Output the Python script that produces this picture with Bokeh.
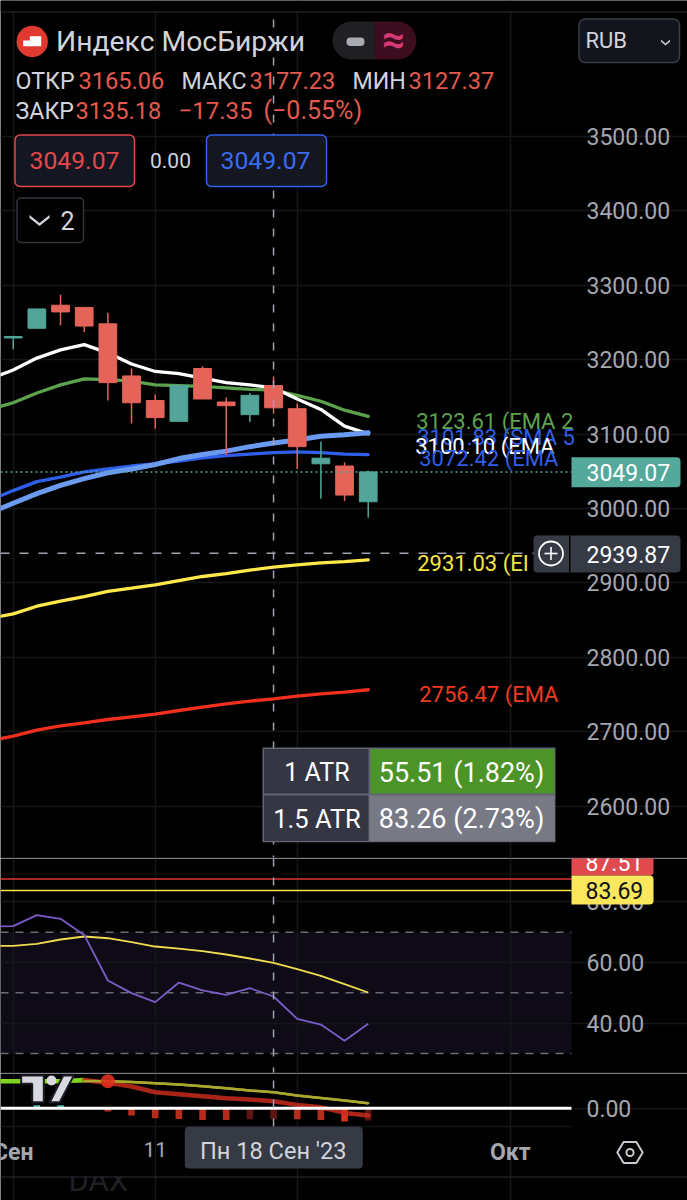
from bokeh.core.properties import value
from bokeh.embed import file_html
from bokeh.layouts import column
from bokeh.models import (BoxAnnotation, FixedTicker, Label, NumeralTickFormatter,
                          PolyAnnotation, Span)
from bokeh.plotting import figure
from bokeh.resources import INLINE
import math

# ---------- data ----------
candle_dates = ["1 Сен", "4", "5", "6", "7", "8", "11", "12", "13", "14", "15", "18", "19", "20", "21", "22"]
opens = [3229, 3242, 3273, 3270, 3248, 3178, 3145, 3117, 3188, 3143, 3126, 3165.06, 3134, 3060, 3057, 3009]
highs = [3232, 3268, 3287, 3270, 3263, 3188, 3153, 3165, 3191, 3149, 3155, 3177.23, 3141, 3090, 3062, 3051]
lows = [3214, 3242, 3246, 3237, 3145, 3114, 3107, 3117, 3147, 3072, 3116, 3127.37, 3053, 3013, 3010, 2987.5]
closes = [3231, 3268, 3264, 3245, 3169, 3142, 3122, 3165, 3147, 3138, 3152, 3135.18, 3083, 3067.5, 3018, 3049.07]

ema_white = [3174, 3186, 3202, 3213, 3220, 3209, 3194, 3184, 3181, 3175, 3169, 3166, 3162, 3147, 3133, 3110.5, 3100.10]
ema_green = [3133, 3142, 3155, 3166, 3174, 3173, 3171, 3166, 3165, 3164, 3162, 3160, 3159, 3152, 3144, 3132, 3123.61]
ema_blue = [3011, 3024, 3036, 3042, 3049, 3053, 3057, 3060, 3063.5, 3068, 3071, 3073, 3075, 3076, 3075, 3073, 3072.42]
sma_blue = [2994, 3007, 3020, 3031, 3040, 3048, 3053, 3059, 3067, 3072.5, 3077, 3083, 3088, 3092, 3097, 3099, 3101.83]
ema_yellow = [2852.2, 2858.4, 2868.7, 2875.5, 2881.7, 2888.5, 2892.9, 2897.4, 2903.2, 2908.6, 2912.6, 2917.1, 2921.1, 2924.3, 2927, 2928.7, 2931.03]
ema_red = [2688, 2694.1, 2702.2, 2708, 2712, 2716.5, 2720.1, 2723.7, 2728.6, 2733.1, 2737.6, 2741.2, 2744.3, 2747.9, 2751, 2753.2, 2756.47]

rsi_values = [71.9, 71.97, 75.6, 74.39, 69.1, 54.07, 49.9, 46.93, 53.4, 50.8, 49.35, 51.54, 48.8, 41.44, 39.57, 34.2, 39.8]
rsi_signal = [65.49, 65.49, 66.15, 67.58, 68.57, 68.0, 66.7, 65.27, 64.6, 63.73, 62.64, 61.32, 59.9, 57.8, 55.6, 52.86, 50.12]
rsi_levels = [30, 50, 70]
rsi_fast_level = 87.51
rsi_slow_level = 83.69

macd_values = [27, 27, 27, 27, 28.3, 25.3, 21.7, 16, 14, 12, 10, 8.7, 7, 3.3, 1, -4.7, -7.3]
macd_signal = [27, 27, 27, 27, 27.3, 27, 26.3, 25, 23.7, 22, 20, 17.7, 16, 12.7, 10.3, 7.7, 5]
hist_values = [0, 3, 3, 0, -3.3, -7.3, -10, -10.7, -11.7, -11.7, -11, -11, -11, -11.7, -13.3, -12.3]

price_ticks = [2600, 2700, 2800, 2900, 3000, 3100, 3200, 3300, 3400, 3500]
rsi_ticks = [40, 60, 80]
macd_ticks = [0]
time_grid_bars = [0, 6, 12, 21]
day_tick_bar = 6
day_tick_label = "11"
month_bars = [0, 21]
month_labels = ["Сен", "Окт"]
cross_bar = 11
cross_price = 2939.87
last_price = 3049.07

price_label_texts = ["3123.61 (EMA 2", "3101.83 (SMA 5", "3100.10 (EMA", "3072.42 (EMA", "2931.03 (EI", "2756.47 (EMA"]
price_label_values = [3123.61, 3101.83, 3100.10, 3072.42, 2931.03, 2756.47]
price_label_colors = ["#5da34e", "#2f5fe8", "#ffffff", "#2f5fe8", "#f5e642", "#f03a22"]
price_label_dy = [4.8, 4.6, 12.3, 4, 4, 4.5]
price_label_dx = [48, 49, 47, 51, 49, 51]

# ---------- styling ----------
BG = "#000000"
UP = "#52a598"
DOWN = "#e4645a"
GRID = "#161618"
SEP = "#2b2d38"
AXT = "#a6a6ad"
TXT = "#d1d4dc"
RED = "#e5594f"
CROSS = "#a0a2ae"
FONT = "Roboto"
TAG = "#363a45"

line_bars = list(range(-1, 16))
candle_bars = line_bars[1:]
X_LEFT, X_RIGHT, X_PANE = -0.5366, 28.49, 23.587


def make_fig(height, y_range, ticks, with_time_axis=False):
    p = figure(width=687, height=height, x_range=(X_LEFT, X_RIGHT), y_range=y_range, output_backend="svg",
               toolbar_location=None, background_fill_color=BG, border_fill_color=BG,
               outline_line_color=None, y_axis_location="right",
               x_axis_location="below" if with_time_axis else None,
               min_border_left=0, min_border_right=0, min_border_top=0, min_border_bottom=0)
    ax = p.yaxis[0]
    ax.fixed_location = X_PANE
    ax.ticker = FixedTicker(ticks=ticks)
    ax.formatter = NumeralTickFormatter(format="0.00")
    ax.axis_line_color = None
    ax.major_tick_line_color = None
    ax.minor_tick_line_color = None
    ax.major_tick_out = 0
    ax.major_label_text_color = AXT
    ax.major_label_text_font = FONT
    ax.major_label_text_font_size = "23px"
    ax.major_label_standoff = 15
    p.grid.grid_line_color = GRID
    p.grid.grid_line_width = 1.5
    p.xgrid.ticker = FixedTicker(ticks=time_grid_bars)
    p.ygrid.bounds = (X_LEFT, X_PANE)
    return p


def hline(p, y, color, width, dash="solid"):
    p.line([X_LEFT, X_PANE], [y, y], line_color=color, line_width=width, line_dash=dash)


def box(p, T, l, r, t, b, fill=None, line=None, lw=1.0, radius=0, alpha=1.0):
    p.add_layout(BoxAnnotation(left=l, right=r, top=t - T, bottom=b - T,
                               left_units="canvas", right_units="canvas", top_units="canvas", bottom_units="canvas",
                               fill_color=fill, fill_alpha=alpha if fill else 0,
                               line_color=line, line_width=lw, line_alpha=1 if line else 0,
                               border_radius=radius))


def poly(p, T, pts, fill=None, line=None, lw=1.0):
    p.add_layout(PolyAnnotation(xs=[a for a, _ in pts], ys=[b - T for _, b in pts],
                                xs_units="canvas", ys_units="canvas",
                                fill_color=fill, fill_alpha=1 if fill else 0,
                                line_color=line, line_width=lw, line_alpha=1 if line else 0))


def text(p, T, x, y, s, color=TXT, size=24, align="left", style="normal"):
    p.add_layout(Label(x=x, y=y - T, x_units="canvas", y_units="canvas", text=s, text_color=color,
                       text_font=FONT, text_font_size=f"{size}px", text_align=align,
                       text_baseline="middle", text_font_style=style))


def chevron(p, T, cx, cy, w, h, th, color):
    poly(p, T, [(cx - w / 2, cy - h / 2), (cx, cy + h / 2 - th), (cx + w / 2, cy - h / 2),
                (cx + w / 2, cy - h / 2 + th), (cx, cy + h / 2), (cx - w / 2, cy - h / 2 + th)], fill=color)


def vcross(p):
    p.add_layout(Span(location=cross_bar, dimension="height", line_color=CROSS, line_width=1.5,
                      line_dash=[8, 11]))


# ---------- price pane ----------
T1 = 0
p1 = make_fig(858, (2529.8, 3682.3), price_ticks)
p1.line(line_bars, ema_green, line_color="#5da34e", line_width=3.3, line_cap="round")
p1.line(line_bars, ema_white, line_color="#ffffff", line_width=3.3, line_cap="round")
p1.line(line_bars, ema_blue, line_color="#2f5fe8", line_width=3.3, line_cap="round")
p1.line(line_bars, sma_blue, line_color="#6b9bf0", line_width=5, line_cap="round")
p1.line(line_bars, ema_yellow, line_color="#ffe84a", line_width=3.3, line_cap="round")
p1.line(line_bars, ema_red, line_color="#f0301c", line_width=3.3, line_cap="round")

candle_colors = [UP if c >= o else DOWN for o, c in zip(opens, closes)]
p1.segment(candle_bars, lows, candle_bars, highs, line_color=candle_colors, line_width=1.5)
p1.vbar(x=candle_bars, bottom=[min(o, c) for o, c in zip(opens, closes)],
        top=[max(o, c) for o, c in zip(opens, closes)], width=0.75,
        fill_color=candle_colors, line_color=candle_colors, line_width=1)

hline(p1, last_price, UP, 1.5, [2, 3])
hline(p1, cross_price, CROSS, 1.5, [9, 10])
vcross(p1)

p1.text([line_bars[-1]] * len(price_label_texts), price_label_values, text=price_label_texts,
        text_color=price_label_colors, text_font=value(FONT), text_font_size="22px", text_baseline="middle",
        x_offset=price_label_dx, y_offset=price_label_dy)

box(p1, T1, 0, 687, 0, 11, fill=BG)
box(p1, T1, 0, 687, 11, 12, fill=SEP)
box(p1, T1, 0, 687, 857, 858, fill=SEP)

# header
box(p1, T1, 16, 47.4, 25.3, 56.7, fill="#e0392f", radius=16)
poly(p1, T1, [(22.7, 45.7), (22.7, 40), (29.3, 40), (29.3, 35.7), (40.7, 35.7), (40.7, 45.7)], fill="#ffffff")
text(p1, T1, 55.5, 41, "Индекс МосБиржи", size=28.3)
box(p1, T1, 332, 375, 21, 59, fill="#1f1f24", radius=(19, 0, 0, 19))
box(p1, T1, 374, 416, 21, 59, fill="#3b0d1e", radius=(0, 19, 19, 0))
box(p1, T1, 346, 364, 37, 45.5, fill="#a9abb3", radius=4)
text(p1, T1, 393, 39, "≈", color="#d63a74", size=40, align="center", style="bold")
box(p1, T1, 578.5, 679, 18.5, 62, fill="#13141c", line="#3a3e4a", lw=1.5, radius=6)
text(p1, T1, 585, 40, "RUB", size=22)
chevron(p1, T1, 665, 42, 9, 6, 2, TXT)

text(p1, T1, 15, 80, "ОТКР", size=23.2)
text(p1, T1, 78, 80, "3165.06", RED, 23.6)
text(p1, T1, 181, 80, "МАКС", size=23.2)
text(p1, T1, 249, 80, "3177.23", RED, 23.6)
text(p1, T1, 352, 80, "МИН", size=23.2)
text(p1, T1, 408, 80, "3127.37", RED, 23.6)
text(p1, T1, 15, 110, "ЗАКР", size=23.2)
text(p1, T1, 75, 110, "3135.18", RED, 23.6)
text(p1, T1, 178, 110, "−17.35", RED)
text(p1, T1, 263, 110, "(−0.55%)", RED, 25)

box(p1, T1, 14.5, 134, 134.5, 186, fill="#141722", line="#e5474a", lw=1.5, radius=5)
text(p1, T1, 74, 160, "3049.07", "#e5474a", 24.7, "center")
text(p1, T1, 170, 160, "0.00", TXT, 21, "center")
box(p1, T1, 206, 326, 134.5, 186, fill="#141722", line="#2f62e8", lw=1.5, radius=5)
text(p1, T1, 265, 160, "3049.07", "#3a6cf0", 24.7, "center")
box(p1, T1, 16.5, 83, 197.5, 242, fill=BG, line="#33353f", lw=1.5, radius=4)
chevron(p1, T1, 39, 220, 20, 11, 3, TXT)
text(p1, T1, 60, 220, "2", TXT, 25)

# right-hand price tags
box(p1, T1, 571, 680, 456.7, 486.7, fill="#55a99b", radius=(0, 4, 4, 0))
text(p1, T1, 586, 472, "3049.07", "#ffffff", 23)
box(p1, T1, 533, 680, 535, 572, fill=TAG, radius=4)
box(p1, T1, 568.5, 570, 535, 572, fill=BG)
box(p1, T1, 538.5, 562.5, 541, 565, line="#ffffff", lw=1.8, radius=12)
box(p1, T1, 544, 557, 552.2, 553.8, fill="#ffffff")
box(p1, T1, 549.7, 551.3, 546.5, 559.5, fill="#ffffff")
text(p1, T1, 586, 554, "2939.87", "#ffffff", 23)

# ATR table
box(p1, T1, 262, 555, 747, 841.7, fill="#6e7080", alpha=0.9)
box(p1, T1, 263.5, 368, 748.5, 793, fill="#30333f", alpha=0.93)
box(p1, T1, 263.5, 368, 795, 840.5, fill="#30333f", alpha=0.93)
box(p1, T1, 370, 554, 748.5, 793, fill="#4c9428")
box(p1, T1, 369, 554, 795, 840.5, fill="#777985")
text(p1, T1, 316.5, 772, "1 ATR", "#ffffff", 25, "center")
text(p1, T1, 461, 772, "55.51 (1.82%)", "#ffffff", 27, "center")
text(p1, T1, 316.5, 818.5, "1.5 ATR", "#ffffff", 25.5, "center")
text(p1, T1, 461, 818.5, "83.26 (2.73%)", "#ffffff", 27, "center")

# ---------- RSI pane ----------
T2 = 858
p2 = make_fig(215, (23.43, 94.27), rsi_ticks)
p2.add_layout(BoxAnnotation(left=X_LEFT, right=X_PANE, bottom=rsi_levels[0], top=rsi_levels[2],
                            fill_color="#0e0b16", fill_alpha=1, line_alpha=0, level="image"))
hline(p2, rsi_fast_level, "#e5322f", 1.5)
hline(p2, rsi_slow_level, "#f5e642", 1.5)
for lvl in rsi_levels:
    hline(p2, lvl, "#6a6a75", 1.5, [8, 7])
p2.line(line_bars, rsi_signal, line_color="#f0dd4f", line_width=1.8)
p2.line(line_bars, rsi_values, line_color="#7a5cc8", line_width=1.8)
vcross(p2)
box(p2, T2, 0, 687, 1072, 1073, fill=SEP)
box(p2, T2, 571, 653, 840, 875, fill="#e04a4f", radius=(0, 4, 4, 0))
text(p2, T2, 585, 862, "87.51", "#ffffff", 23)
box(p2, T2, 571, 653, 875, 904, fill="#fbe75c", radius=(0, 4, 4, 0))
text(p2, T2, 585, 890, "83.69", "#111111", 23)

# ---------- MACD pane + time axis ----------
T3 = 1073
MACD_FLOOR = -18.3
p3 = make_fig(127, (-92.3, 34.7), macd_ticks, with_time_axis=True)
p3.xgrid.bounds = (MACD_FLOOR, 34.7)
xa = p3.xaxis[0]
xa.fixed_location = MACD_FLOOR
xa.ticker = FixedTicker(ticks=[day_tick_bar])
xa.major_label_overrides = {day_tick_bar: day_tick_label}
xa.axis_line_color = None
xa.major_tick_line_color = None
xa.minor_tick_line_color = None
xa.major_tick_out = 0
xa.major_label_text_color = AXT
xa.major_label_text_font = FONT
xa.major_label_text_font_size = "21px"
xa.major_label_standoff = 15

hist_colors = ["#000000", "#4fb3a8", "#4fb3a8", "#000000", "#b52b1c", "#b52b1c", "#b52b1c", "#b52b1c", "#b52b1c",
               "#b52b1c", "#5e1510", "#5e1510", "#b52b1c", "#b52b1c", "#d6301f", "#5e1510"]
p3.vbar(x=candle_bars, bottom=0, top=hist_values, width=0.28, fill_color=hist_colors, line_color=None)
p3.line(line_bars, macd_signal, line_color="#a8a82e", line_width=2.5)
p3.line(line_bars[:5], macd_values[:5], line_color="#7ed321", line_width=4.5)
p3.line(line_bars[4:], macd_values[4:], line_color="#c82c1c", line_width=4.5, line_alpha=0.85, line_cap="round")
p3.line(line_bars[4:], macd_signal[4:], line_color="#a8a82e", line_width=2.5, line_cap="round")
p3.scatter([line_bars[5]], [macd_signal[5]], size=14, fill_color="#dd3020", line_color=None, fill_alpha=0.9)
hline(p3, macd_ticks[0], "#ffffff", 3)
hline(p3, MACD_FLOOR, GRID, 1.5)
p3.line([cross_bar, cross_bar], [MACD_FLOOR, 34.7], line_color=CROSS, line_width=1.5, line_dash=[8, 11])

# TradingView mark
poly(p3, T3, [(20.7, 1075), (43.3, 1075), (43.3, 1101.7), (31.7, 1101.7), (31.7, 1083.3), (20.7, 1083.3)],
     fill="#d8dae0", line="#1c1c28", lw=2)
poly(p3, T3, [(62.7, 1075), (73.3, 1075), (59.3, 1101.7), (49.3, 1101.7)], fill="#d8dae0", line="#1c1c28", lw=2)
box(p3, T3, 46, 56, 1075, 1085, fill="#d8dae0", radius=5)

# time axis
for bar, lab in zip(month_bars, month_labels):
    p3.add_layout(Label(x=bar, y=1152 - T3, y_units="canvas", text=lab, text_color=AXT, text_font=FONT,
                        text_font_size="23px", text_font_style="bold", text_align="center",
                        text_baseline="middle"))
box(p3, T3, 184.3, 362.3, 1126.3, 1168, fill=TAG, radius=4)
text(p3, T3, 272.7, 1150, "Пн 18 Сен '23", TXT, 23.6, "center")
hex_r, hex_cx, hex_cy = 12.7, 629.5, 1152
poly(p3, T3, [(hex_cx + hex_r * math.cos(math.radians(a)), hex_cy + hex_r * 0.95 * math.sin(math.radians(a)))
              for a in range(0, 360, 60)], line="#c8c8d0", lw=2)
box(p3, T3, hex_cx - 3.6, hex_cx + 3.6, hex_cy - 3.6, hex_cy + 3.6, line="#c8c8d0", lw=2, radius=4)
text(p3, T3, 68, 1180, "DAX", "#202024", 31)
box(p3, T3, 60, 140, 1168.5, 1176, fill=BG)
box(p3, T3, 0, 687, 1176, 1177, fill=SEP)

page = column(p1, p2, p3, spacing=0)
open("out.html", "w").write(file_html(page, INLINE))
